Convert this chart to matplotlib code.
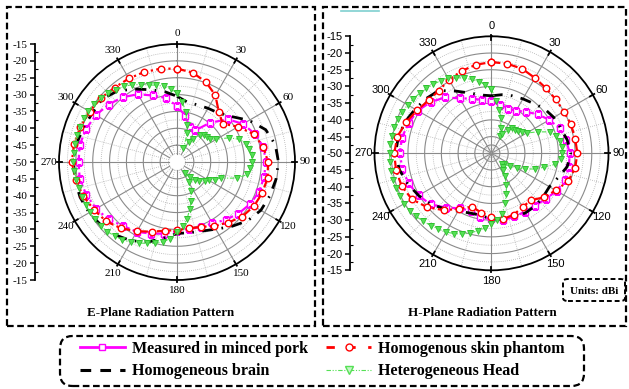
import numpy as np
import matplotlib
matplotlib.use("Agg")
import matplotlib.pyplot as plt
from matplotlib.lines import Line2D
from matplotlib.patches import Rectangle, FancyBboxPatch

# ---------------- data ----------------
angles10 = list(range(0, 360, 10))
angles5 = list(range(0, 360, 5))

# E-plane
e_pork = [-33.4, -36.0, -39.0, -39.2, -34.8, -30.3, -27.4, -25.5, -24.0, -23.6,
          -23.8, -24.1, -25.0, -26.2, -27.6, -29.0, -29.5, -29.8, -29.5, -28.4,
          -27.4, -26.1, -25.2, -23.5, -22.3, -21.4, -20.7, -20.8, -20.7, -21.3,
          -22.2, -23.5, -24.9, -26.8, -29.0, -30.7]
e_skin = [-22.3, -23.1, -24.8, -27.2, -30.7, -32.3, -29.1, -25.8, -24.0, -23.0,
          -22.7, -23.1, -23.7, -24.8, -26.5, -28.1, -29.5, -30.0, -29.8, -29.3,
          -28.0, -26.3, -24.3, -22.6, -21.6, -20.4, -19.5, -18.8, -19.0, -19.5,
          -20.1, -20.5, -21.2, -21.4, -21.6, -21.9]
e_brain = [-30.5, -32.0, -32.0, -31.6, -31.0, -29.0, -25.3, -22.0, -20.4, -19.9,
           -20.2, -20.7, -21.3, -22.8, -25.0, -27.0, -28.2, -28.7, -28.8, -27.0,
           -24.8, -23.0, -21.7, -20.7, -19.9, -19.4, -19.3, -19.2, -19.7, -20.4,
           -21.0, -21.0, -22.5, -25.0, -27.2, -28.8]
e_head = [-29.5, -32.0, -35.0, -38.5, -41.0, -45.5, -43.0, -41.5, -39.5, -38.7,
          -38.3, -38.0, -36.5, -33.0, -30.3, -28.8, -28.2, -27.8, -27.8, -28.2,
          -28.8, -31.5, -36.0, -37.7, -39.1, -40.0, -41.3, -42.5, -44.0, -46.0,
          -43.0, -40.5, -37.8, -35.5, -32.8, -30.8, -29.3, -27.2, -26.0, -25.0,
          -24.3, -23.5, -22.5, -21.8, -21.3, -20.8, -20.5, -20.3, -20.2, -20.1,
          -20.0, -19.9, -19.7, -19.4, -19.3, -19.2, -19.2, -19.2, -19.3, -19.4,
          -19.6, -19.9, -20.6, -21.2, -22.0, -22.6, -23.5, -24.7, -25.7, -26.4,
          -27.2, -28.2]

# H-plane
h_pork = [-34.5, -35.2, -35.8, -35.3, -33.8, -31.9, -30.0, -28.3, -27.3, -26.6,
          -26.5, -26.6, -27.5, -28.8, -29.6, -29.8, -29.9, -29.7, -30.2, -30.8,
          -31.7, -31.0, -28.8, -26.2, -24.8, -23.6, -22.9, -22.6, -22.8, -23.6,
          -24.5, -26.2, -28.2, -31.0, -32.6, -33.8]
h_skin = [-22.7, -22.8, -23.1, -24.0, -24.6, -24.9, -25.0, -24.7, -24.6, -24.3,
          -24.6, -25.6, -27.8, -29.5, -31.7, -31.4, -30.5, -30.0, -30.8, -32.0,
          -33.0, -30.8, -27.8, -24.9, -22.5, -21.4, -21.0, -20.9, -21.4, -22.8,
          -24.3, -25.4, -25.5, -24.6, -23.8, -23.1]
h_brain = [-32.8, -32.2, -31.7, -31.2, -30.5, -29.3, -28.5, -28.0, -27.0, -26.3,
           -27.0, -28.8, -30.0, -29.8, -29.5, -29.5, -29.6, -30.0, -30.3, -31.2,
           -31.0, -30.0, -28.3, -26.3, -24.8, -23.3, -22.0, -21.3, -21.7, -22.5,
           -23.6, -24.5, -25.5, -28.5, -30.8, -32.3]
h_head = [-30.8, -34.3, -36.8, -39.0, -42.0, -44.2, -43.5, -41.5, -40.3, -40.0,
          -39.6, -38.8, -37.9, -34.8, -31.3, -29.9, -29.2, -28.9, -28.9, -29.2,
          -30.8, -33.8, -36.2, -39.0, -41.3, -43.2, -45.0, -45.6, -44.8, -44.0,
          -42.0, -39.5, -37.0, -34.5, -31.5, -30.0, -29.0, -27.5, -26.5, -25.3,
          -24.3, -23.5, -22.8, -22.3, -21.8, -21.2, -20.6, -20.1, -19.8, -19.7,
          -19.6, -19.5, -19.5, -19.5, -19.5, -19.6, -19.7, -19.9, -20.2, -20.6,
          -21.0, -21.5, -22.0, -22.5, -23.0, -23.5, -24.0, -25.0, -26.1, -27.1,
          -28.2, -29.4]

angle_labels = ["0", "30", "60", "90", "120", "150", "180", "210", "240", "270", "300", "330"]
scale_labels = ["-15", "-20", "-25", "-30", "-35", "-40", "-45", "-50",
                "-45", "-40", "-35", "-30", "-25", "-20", "-15"]
legend_labels = ["Measured in minced pork", "Homogenous skin phantom",
                 "Homogeneous brain", "Heterogeneous Head"]
titles = ["E-Plane Radiation Pattern", "H-Plane Radiation Pattern"]

RMIN, RMAX = -50, -15

W, H = 629, 389
fig = plt.figure(figsize=(W / 100, H / 100), dpi=100)


def fbox(x0, y0, x1, y1):
    """pixel box (top-left origin) -> figure fraction [l, b, w, h]"""
    return [x0 / W, 1 - y1 / H, (x1 - x0) / W, (y1 - y0) / H]


PINK = "#FF00FF"
RED = "#FF0000"
GREEN = "#55E055"
GREEN_E = "#2FC02F"


def closed(a, v):
    a = list(a) + [a[0] + 360]
    v = list(v) + [v[0]]
    return np.deg2rad(a), np.array(v)


def draw_polar(rect, fam, hole, pork, skin, brain, head):
    ax = fig.add_axes(rect, projection="polar")
    ax.set_theta_zero_location("N")
    ax.set_theta_direction(-1)
    ax.set_ylim(RMIN, RMAX)
    ax.grid(False)
    ax.set_yticks([])
    ax.set_xticks(np.deg2rad(np.arange(0, 360, 30)))
    ax.set_xticklabels(angle_labels, family=fam, fontsize=8)
    ax.tick_params(axis="x", pad=-3)
    ax.spines["polar"].set_linewidth(1.3)
    # grid
    th = np.linspace(0, 2 * np.pi, 361)
    for k, r in enumerate(np.arange(-47.5, -15, 2.5)):
        solid = (k % 2 == 1) or (not hole and k == 0)
        ax.plot(th, np.full_like(th, r), color="#8a8a8a" if solid else "#b0b0b0",
                lw=0.8 if solid else 0.6, ls="-" if solid else (0, (1, 1.5)), zorder=1)
    r0 = -47.5 if hole else RMIN
    for a in range(0, 360, 15):
        solid = a % 30 == 0
        ax.plot([np.deg2rad(a)] * 2, [r0, RMAX], color="#8a8a8a" if solid else "#b0b0b0",
                lw=0.8 if solid else 0.6, ls="-" if solid else (0, (1, 1.5)), zorder=1)
        if solid:
            ax.plot([np.deg2rad(a)] * 2, [RMAX - 1.0, RMAX + 0.5], color="black",
                    lw=1.3, clip_on=False, zorder=3)
    # data
    t, v = closed(angles10, pork)
    ax.plot(t, v, color=PINK, lw=1.6, ls=(0, (4, 1.5, 1, 1.5)), marker="s", ms=4.2,
            mfc="white", mec=PINK, mew=1.0, zorder=4)
    t, v = closed(angles10, brain)
    ax.plot(t, v, color="black", lw=2.0, ls=(0, (4, 3, 0.6, 3)), zorder=5)
    t, v = closed(angles10, skin)
    ax.plot(t, v, color=RED, lw=1.6, ls=(0, (4, 1.5, 1, 1.5)), marker="o", ms=4.7,
            mfc="white", mec=RED, mew=1.0, zorder=6)
    t, v = closed(angles5, head)
    ax.plot(t, v, color=GREEN, lw=0.8, ls=(0, (4, 1.5, 1, 1.5, 1, 1.5)), marker="v", ms=4.8,
            mfc=GREEN, mec=GREEN_E, mew=0.6, zorder=7)
    return ax


def draw_scale(rect, fam):
    ax = fig.add_axes(rect)
    for s in ["top", "right", "bottom"]:
        ax.spines[s].set_visible(False)
    ax.spines["left"].set_linewidth(1.3)
    ax.set_xticks([])
    ax.set_ylim(-35, 35)
    ax.set_yticks(np.arange(35, -36, -5))
    ax.set_yticklabels(scale_labels, family=fam, fontsize=8)
    ax.set_yticks(np.arange(-32.5, 35, 5), minor=True)
    ax.tick_params(axis="y", which="major", direction="out", length=3.5, width=1.1, pad=2)
    ax.tick_params(axis="y", which="minor", direction="in", length=2.0, width=0.8)
    ax.patch.set_visible(False)
    return ax


# E plane
draw_polar(fbox(59, 44, 295, 280), "Liberation Serif", True, e_pork, e_skin, e_brain, e_head)
draw_scale(fbox(35, 44, 45, 280), "Liberation Serif")
# H plane
draw_polar(fbox(374.5, 36.3, 608.5, 270.3), "Liberation Sans", False, h_pork, h_skin, h_brain, h_head)
draw_scale(fbox(350, 36.3, 360, 270.3), "Liberation Sans")

# panel frames
dash = (0, (3, 1.6))
for (x0, y0, x1, y1) in [(7, 7, 315, 326), (323, 7, 626, 326)]:
    fig.add_artist(Rectangle((x0 / W, 1 - y1 / H), (x1 - x0) / W, (y1 - y0) / H,
                             transform=fig.transFigure, fill=False, lw=1.6,
                             ls=dash, ec="black"))

fig.text(161 / W, 1 - 313 / H, titles[0], ha="center", va="center",
         family="Liberation Serif", weight="bold", fontsize=9.4)
fig.text(482 / W, 1 - 313 / H, titles[1], ha="center", va="center",
         family="Liberation Serif", weight="bold", fontsize=9.4)

# Units box
fig.add_artist(FancyBboxPatch((563 / W, 1 - 301 / H), 62 / W, 22 / H,
                              boxstyle="round,pad=0,rounding_size=0.008",
                              transform=fig.transFigure, fill=False, lw=1.4,
                              ls=(0, (2.5, 1.5)), ec="black"))
fig.text(594 / W, 1 - 291 / H, "Units: dBi", ha="center", va="center",
         family="Liberation Serif", weight="bold", fontsize=8)

# small teal line at top of H panel
fig.add_artist(Line2D([341 / W, 379 / W], [1 - 11 / H, 1 - 11 / H],
                      transform=fig.transFigure, color="#7fd0d0", lw=1.2))

# legend box
fig.add_artist(FancyBboxPatch((60 / W, 1 - 386 / H), 524 / W, 50 / H,
                              boxstyle="round,pad=0,rounding_size=0.02",
                              transform=fig.transFigure, fill=False, lw=1.6,
                              ls=dash, ec="black", mutation_aspect=629 / 389))

handles = [
    Line2D([], [], color=PINK, lw=2.0, ls="-", marker="s", ms=5, mfc="white", mec=PINK),
    Line2D([], [], color=RED, lw=2.0, ls=(0, (3, 4.5)), marker="o", ms=5, mfc="white", mec=RED),
    Line2D([], [], color="black", lw=2.2, ls=(0, (3.5, 3)), marker=None),
    Line2D([], [], color=GREEN, lw=0.8, ls=(0, (4, 1.5, 1, 1.5, 1, 1.5)), marker="v", ms=6,
           mfc="#c8f5c8", mec=GREEN),
]
order = [0, 2, 1, 3]
fig.legend([handles[i] for i in order], [legend_labels[i] for i in order],
           loc="center left", bbox_to_anchor=(72 / W, 1 - 360 / H), ncol=2,
           frameon=False, handlelength=2.8, handletextpad=0.45, columnspacing=1.15,
           labelspacing=0.4, borderpad=0,
           prop={"family": "Liberation Serif", "weight": "bold", "size": 11.5})

fig.savefig("out.png", dpi=100)
